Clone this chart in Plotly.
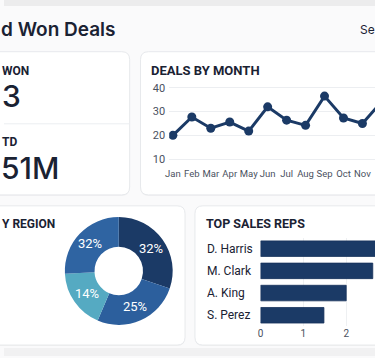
import math
import plotly.graph_objects as go

W, H = 375, 358

# ---- data ----
months = ["Jan", "Feb", "Mar", "Apr", "May", "Jun", "Jul", "Aug", "Sep", "Oct", "Nov", "Dec"]
deals = [20, 27.7, 23, 25.6, 21.8, 32, 26.4, 24.2, 36.5, 27.3, 25, 34]

regions = ["North", "East", "South", "West"]
region_share = [30.3, 26.1, 17.8, 25.8]
region_labels = ["32%", "25%", "14%", "32%"]
region_colors = ["#1b3a66", "#2c5f9d", "#55aac2", "#2f64a2"]

reps = ["D. Harris", "M. Clark", "A. King", "S. Perez"]
rep_values = [3.1, 2.62, 2.0, 1.48]

NAVY = "#1b3a66"
TXT = "#1a2233"
FONT = "Inter"
SMALL = "Roboto"


def px(x):
    return x / W


def py(y):
    return 1 - y / H


def rrect(x0, y0, x1, y1, r=8):
    rx, ry = r / W, r / H
    X0, X1 = px(x0), px(x1)
    Y0, Y1 = py(y0), py(y1)
    return (f"M {X0+rx},{Y0} L {X1-rx},{Y0} Q {X1},{Y0} {X1},{Y0-ry} "
            f"L {X1},{Y1+ry} Q {X1},{Y1} {X1-rx},{Y1} L {X0+rx},{Y1} "
            f"Q {X0},{Y1} {X0},{Y1+ry} L {X0},{Y0-ry} Q {X0},{Y0} {X0+rx},{Y0} Z")


fig = go.Figure()

fig.add_trace(go.Scatter(
    x=months, y=deals, mode="lines+markers",
    line=dict(color=NAVY, width=3),
    marker=dict(color=NAVY, size=9),
    xaxis="x", yaxis="y", showlegend=False, hoverinfo="skip"))

# donut geometry (pixels)
PCX, PCY, PR, HOLE = 116, 272.5, 54.5, 0.45
fig.add_trace(go.Pie(
    labels=regions, values=region_share,
    textinfo="none",
    marker=dict(colors=region_colors, line=dict(width=0)),
    hole=HOLE, sort=False, direction="clockwise", rotation=0,
    domain=dict(x=[px(PCX - PR), px(PCX + PR)], y=[py(PCY + PR), py(PCY - PR)]),
    showlegend=False, hoverinfo="skip"))

fig.add_trace(go.Bar(
    x=rep_values, y=reps, orientation="h",
    marker=dict(color=NAVY, line=dict(color="#16315a", width=0.8)),
    xaxis="x2", yaxis="y2", showlegend=False, hoverinfo="skip"))

lx0 = 167
unit = 19.16
a = -(170.7 - lx0) / unit
b = a + (W - lx0) / unit

shapes = []
shapes.append(dict(type="rect", xref="paper", yref="paper", x0=0, x1=1, y0=py(6), y1=1,
                   fillcolor="#ececed", line=dict(width=0), layer="below"))
shapes.append(dict(type="rect", xref="paper", yref="paper", x0=0, x1=1, y0=0, y1=py(350),
                   fillcolor="#f1f1f2", line=dict(width=0), layer="below"))
for (x0, y0, x1, y1) in [(-20, 52, 127, 196), (138, 52, 420, 196), (-20, 207, 183, 347), (193, 207, 420, 347)]:
    shapes.append(dict(type="path", xref="paper", yref="paper", path=rrect(x0, y0 + 1, x1, y1 + 1),
                       fillcolor="rgba(0,0,0,0.035)", line=dict(width=0), layer="below"))
    shapes.append(dict(type="path", xref="paper", yref="paper", path=rrect(x0, y0, x1, y1),
                       fillcolor="white", line=dict(color="#e7e9ec", width=1), layer="below"))
shapes.append(dict(type="line", xref="paper", yref="paper", x0=0, x1=px(127), y0=py(124.5), y1=py(124.5),
                   line=dict(color="#eceef1", width=1), layer="below"))

ann = []


def text(x, y, s, size, anchor="left", color=TXT, weight=600, family=FONT):
    ann.append(dict(x=px(x), y=py(y), xref="paper", yref="paper", text=s, showarrow=False,
                    xanchor=anchor, yanchor="middle",
                    font=dict(family=family, size=size, color=color, weight=weight)))


text(-5, 30, "d Won Deals", 19)
text(377, 30, "Se", 12, anchor="right", weight=400)
text(-4, 71, "WON", 12, family=SMALL, weight=700)
text(-4, 97, "3", 30, weight=500)
text(-4, 143, "TD", 12, family=SMALL, weight=700)
text(-5, 169, "51M", 30, weight=500)
text(147, 71, "DEALS BY MONTH", 13, family=SMALL, weight=700)
text(-4, 225, "Y REGION", 12, family=SMALL, weight=700)
text(202, 225, "TOP SALES REPS", 12.5, family=SMALL, weight=700)

for r in reps:
    ann.append(dict(x=px(203), y=r, xref="paper", yref="y2", text=r, showarrow=False,
                    xanchor="left", yanchor="middle",
                    font=dict(family=SMALL, size=12, color=TXT)))

# donut labels at the middle of each ring segment
total = sum(region_share)
start = 0.0
rmid = PR * (1 + HOLE) / 2
for v, lab in zip(region_share, region_labels):
    mid = (start + v / 2) / total * 2 * math.pi
    start += v
    lx = PCX + rmid * math.sin(mid)
    ly = PCY - rmid * math.cos(mid)
    ann.append(dict(x=px(lx), y=py(ly), xref="paper", yref="paper", text=lab, showarrow=False,
                    xanchor="center", yanchor="middle",
                    font=dict(family=SMALL, size=13, color="white")))

fig.update_layout(
    width=W, height=H, margin=dict(l=0, r=0, t=0, b=0),
    paper_bgcolor="#fafafb", plot_bgcolor="rgba(0,0,0,0)",
    font=dict(family=SMALL),
    shapes=shapes, annotations=ann,
    xaxis=dict(domain=[px(lx0), 1], range=[a, b], showgrid=False, zeroline=False,
               showline=False, ticks="", tickangle=0, ticklabelstandoff=2,
               tickfont=dict(size=9.5, color="#4a5160"), fixedrange=True),
    yaxis=dict(domain=[py(165), py(80)], range=[40 - (165 - 88.3) / 2.39, 40 + (88.3 - 80) / 2.39],
               tickvals=[10, 20, 30, 40], showgrid=True, gridcolor="#eceef1", gridwidth=1,
               zeroline=False, showline=False, ticks="", ticklabelstandoff=3,
               tickfont=dict(size=11, color="#4a5160"), fixedrange=True),
    xaxis2=dict(domain=[px(259.3), 1], range=[0, (W - 259.3) / 43.3], tickvals=[0, 1, 2],
                showgrid=True, gridcolor="#eef0f2", zeroline=False, showline=False, ticks="",
                tickangle=0, tickfont=dict(size=10, color="#4a5160"), anchor="y2", fixedrange=True),
    yaxis2=dict(domain=[py(328.2), py(238.9)], range=[3.5, -0.5], showticklabels=False,
                showgrid=False, zeroline=False, anchor="x2", fixedrange=True),
    bargap=0.3,
)

fig.write_html("out.html", config={"displayModeBar": False},
               post_script="document.body.style.margin='0';document.body.style.overflow='hidden';")
